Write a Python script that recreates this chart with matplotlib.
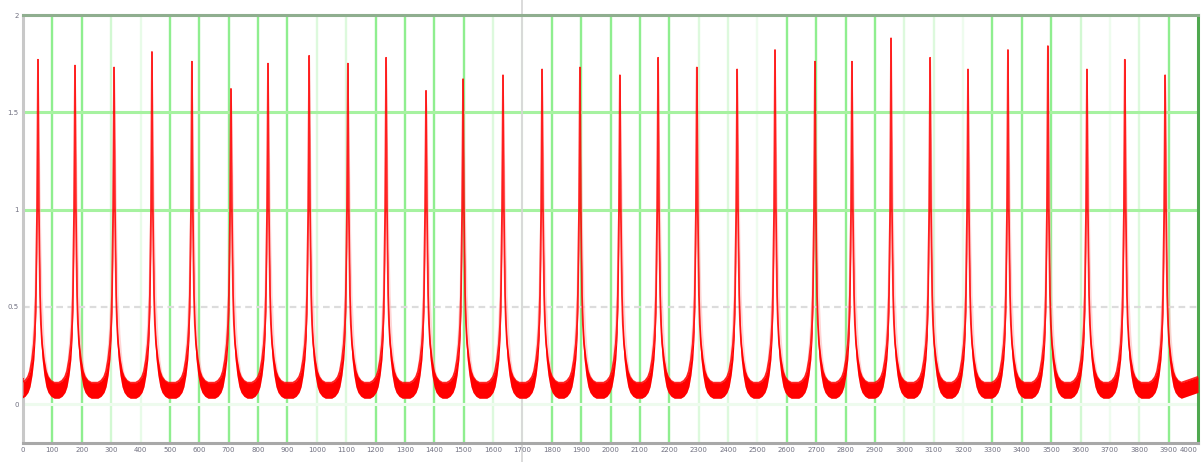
import matplotlib
matplotlib.use("Agg")
import matplotlib.pyplot as plt
import numpy as np

# ---- data ----
spike_t = [51, 177, 310, 439, 575, 708, 834, 974, 1106, 1236,
           1372, 1498, 1634, 1767, 1896, 2032, 2162, 2294, 2431, 2560,
           2696, 2822, 2955, 3088, 3217, 3353, 3489, 3622, 3751, 3888]
spike_peak = [1.77, 1.74, 1.73, 1.81, 1.76, 1.62, 1.75, 1.79, 1.75, 1.78,
              1.61, 1.67, 1.69, 1.72, 1.73, 1.69, 1.78, 1.73, 1.72, 1.82,
              1.76, 1.76, 1.88, 1.78, 1.72, 1.82, 1.84, 1.72, 1.77, 1.69]
# flank profile of one spike: offset from the peak (x units) -> level above baseline
flank_offset = [3, 7, 10, 14, 20, 27, 34, 44, 55]
flank_level = [0.9, 0.45, 0.3, 0.2, 0.12, 0.06, 0.03, 0.01, 0.0]
# lighter (pink) envelope around the flanks
halo_level = [1.4, 1.0, 0.7, 0.45, 0.25, 0.12, 0.05, 0.01, 0.0]
band_low = 0.03
band_high = 0.11
x_ticks = list(range(0, 4001, 100))
y_ticks = [0, 0.5, 1, 1.5, 2]
y_ticklabels = ["0", "0.5", "1", "1.5", "2"]

# ---- figure ----
fig = plt.figure(figsize=(12.03, 4.62), dpi=100)
ax = fig.add_axes([23 / 1203, (462 - 443) / 462, (1198 - 23) / 1203, (443 - 15) / 462])
ax.set_xlim(0, 4000)
ax.set_ylim(-0.2, 2.0)

# vertical grid lines with varying intensity (as in the screenshot)
grid_alpha = [0, 1, 1, .4, .2, 1, 1, 1, 1, 1, .3, .3, 1, 1, 1, 1, .3, .15, 1, 1, 1,
              1, 1, .3, .3, .15, 1, 1, 1, 1, .3, .3, .15, 1, 1, 1, .4, .15, .3, 1, 0]
for xt, a in zip(x_ticks, grid_alpha):
    if a > 0:
        ax.axvline(xt, color="#8fee8f", lw=1.7, alpha=a, zorder=1)
ax.axhline(1.5, color="#a6f2a0", lw=2.2, zorder=1)
ax.axhline(1.0, color="#a6f2a0", lw=2.2, zorder=1)
ax.axhline(0.5, color="#dcdcdc", lw=1.6, ls=(0, (3, 2)), zorder=1)
ax.axhline(0.0, color="#eefbee", lw=2.2, zorder=1)

# cursor line
ax.axvline(1699, ymin=-0.1, ymax=1.04, color="#d4d4d4", lw=1.2, clip_on=False, zorder=1)

# build the signal polyline from the spike data
xs, lo, hi, halo = [], [], [], []
for t0, pk in zip(spike_t, spike_peak):
    offs = [-o for o in flank_offset[::-1]] + [0] + flank_offset
    lev = flank_level[::-1] + [pk - band_high] + flank_level
    hlev = halo_level[::-1] + [pk - band_high] + halo_level
    for o, l, h in zip(offs, lev, hlev):
        xs.append(t0 + o)
        lo.append(band_low + l)
        hi.append(band_high + l)
        halo.append(band_high + h)
xs = [0] + xs + [4000]
lo = [band_low + 0.02] + lo + [band_low + 0.03]
hi = [band_high + 0.02] + hi + [band_high + 0.03]
halo = [band_high + 0.02] + halo + [band_high + 0.03]

ax.fill_between(xs, lo, halo, color="#ffb4b4", alpha=0.55, lw=0, zorder=2)
ax.fill_between(xs, lo, hi, color="#ff0000", lw=0, zorder=3)
ax.plot(xs, hi, color="#ff0000", lw=1.3, alpha=0.85, zorder=3)

# spines
for s in ax.spines.values():
    s.set_linewidth(2.2)
ax.spines["left"].set_color("#c8c8c8")
ax.spines["bottom"].set_color("#a8a8a8")
ax.spines["top"].set_color("#8fae8f")
ax.spines["right"].set_color("#4fa84f")

ax.set_xticks(x_ticks)
ax.set_xticklabels([str(v) for v in x_ticks])
ax.set_yticks(y_ticks)
ax.set_yticklabels(y_ticklabels)
ax.tick_params(axis="both", length=0, labelsize=5, colors="#707080", pad=3)
ax.get_xticklabels()[-1].set_horizontalalignment("right")

fig.savefig("out.png", dpi=100, facecolor="white")
